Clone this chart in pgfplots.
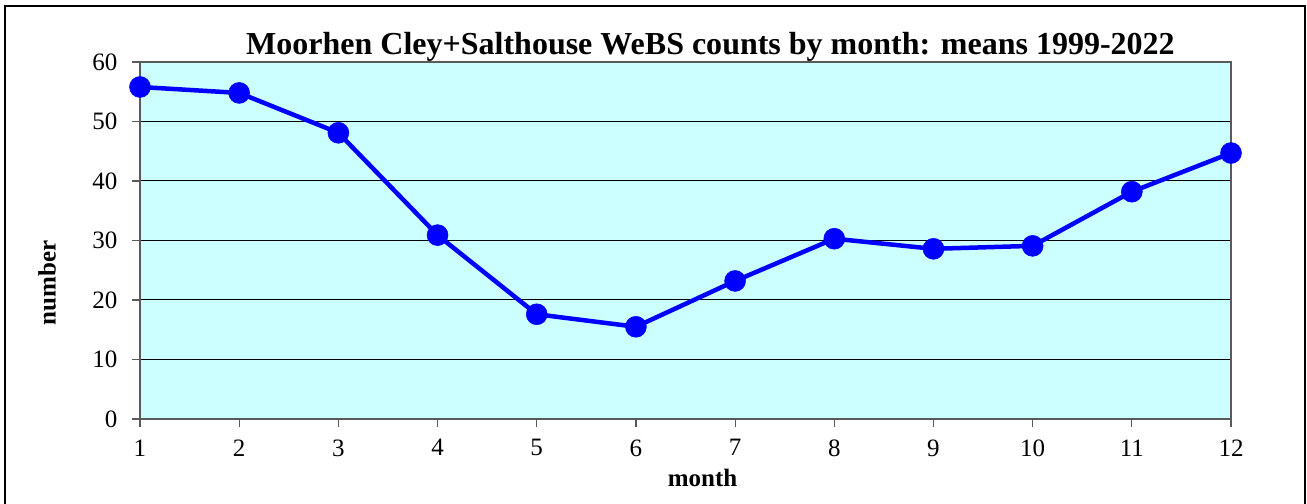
\documentclass[border=0pt]{standalone}
\usepackage{pgfplots}
\pgfplotsset{compat=1.18}
\usepackage{fontspec}
\setmainfont{Liberation Serif}
\definecolor{plotbg}{RGB}{204,255,255}
\definecolor{axgray}{RGB}{90,90,90}
\begin{document}
\begin{tikzpicture}[x=1bp,y=1bp]
\useasboundingbox (-140,-85) rectangle (1167,419);
\draw[black, line width=1.5bp] (-135,-120) rectangle (1165,413);
\begin{axis}[
  at={(0,0)}, anchor=south west,
  scale only axis, width=1091bp, height=357bp,
  xmin=1, xmax=12, ymin=0, ymax=60,
  xtick={1,...,12}, ytick={0,10,...,60},
  axis background/.style={fill=plotbg},
  axis line style={draw=axgray, line width=1.2bp},
  ymajorgrids, major grid style={black, line width=1bp},
  tick align=outside, xtick pos=bottom, ytick pos=left,
  major tick length=8bp,
  tick style={axgray, line width=1.2bp},
  /pgf/number format/assume math mode=true,
  ticklabel style={font=\fontsize{25bp}{28bp}\selectfont},
  xticklabel style={yshift=-9bp},
  yticklabel style={xshift=-11bp},
  xlabel={\textbf{month}}, ylabel={\textbf{number}},
  every axis x label/.style={at={(axis description cs:0.5,0)}, anchor=center, xshift=17bp, yshift=-59bp, font=\fontsize{25bp}{28bp}\selectfont},
  every axis y label/.style={at={(axis description cs:0,0.381)}, anchor=center, xshift=-93bp, rotate=90, font=\fontsize{25bp}{28bp}\selectfont},
  title={\textbf{Moorhen Cley+Salthouse WeBS counts by month: means 1999-2022}},
  every axis title/.style={at={(axis description cs:0.5,1)}, anchor=base, xshift=25bp, yshift=7bp, font=\fontsize{32bp}{36bp}\selectfont},
  clip=false,
]
\addplot[color=blue, line width=4.5bp, mark=*, mark size=10.5bp, mark options={fill=blue, draw=blue, line width=0.5bp}]
coordinates {(1,55.8)(2,54.8)(3,48.1)(4,30.9)(5,17.6)(6,15.5)(7,23.2)(8,30.3)(9,28.6)(10,29.1)(11,38.2)(12,44.7)};
\end{axis}
\end{tikzpicture}
\end{document}
